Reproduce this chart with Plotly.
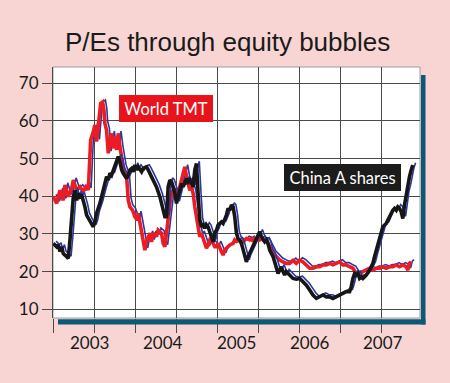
import plotly.graph_objects as go

# ---------------- data ----------------
tmt_t = [2003.004, 2003.050, 2003.095, 2003.140, 2003.163, 2003.208, 2003.254, 2003.277, 2003.322, 2003.367,
         2003.413, 2003.458, 2003.481, 2003.494, 2003.513, 2003.549, 2003.571, 2003.594, 2003.630, 2003.649,
         2003.676, 2003.694, 2003.707, 2003.730, 2003.753, 2003.776, 2003.798, 2003.821, 2003.844, 2003.867,
         2003.889, 2003.912, 2003.935, 2003.957, 2004.003, 2004.025, 2004.048, 2004.084, 2004.116, 2004.147,
         2004.161, 2004.184, 2004.207, 2004.252, 2004.274, 2004.320, 2004.342, 2004.365, 2004.410, 2004.433,
         2004.478, 2004.501, 2004.524, 2004.546, 2004.569, 2004.592, 2004.615, 2004.637, 2004.660, 2004.683,
         2004.705, 2004.728, 2004.751, 2004.773, 2004.796, 2004.819, 2004.841, 2004.864, 2004.887, 2004.909,
         2004.932, 2004.955, 2004.977, 2005.000, 2005.023, 2005.045, 2005.068, 2005.091, 2005.113, 2005.136,
         2005.159, 2005.181, 2005.204, 2005.227, 2005.249, 2005.272, 2005.295, 2005.317, 2005.340, 2005.363,
         2005.385, 2005.408, 2005.454, 2005.476, 2005.499, 2005.544, 2005.567, 2005.612, 2005.635, 2005.680,
         2005.703, 2005.726, 2005.748, 2005.771, 2005.816, 2005.839, 2005.862, 2005.907, 2005.929, 2005.952,
         2005.975, 2005.998, 2006.043, 2006.088, 2006.134, 2006.179, 2006.224, 2006.270, 2006.315, 2006.361,
         2006.406, 2006.452, 2006.497, 2006.542, 2006.588, 2006.633, 2006.678, 2006.724, 2006.769, 2006.814,
         2006.860, 2006.905, 2006.950, 2006.995, 2007.041, 2007.086, 2007.132, 2007.177, 2007.222, 2007.268,
         2007.313, 2007.358, 2007.404, 2007.449, 2007.494, 2007.540, 2007.585, 2007.630, 2007.676, 2007.721,
         2007.766, 2007.812, 2007.834, 2007.857, 2007.880]
tmt_pe = [39.9, 38.1, 41.6, 38.9, 43.0, 39.9, 42.1, 44.3, 41.6, 42.5,
          41.2, 43.0, 41.6, 46.9, 54.9, 57.1, 58.9, 54.5, 62.9, 64.6,
          65.0, 62.9, 59.3, 57.5, 51.4, 54.9, 56.7, 52.7, 55.8, 52.3,
          56.7, 53.1, 49.6, 47.8, 45.2, 39.0, 37.2, 36.3, 34.6, 33.7,
          35.5, 32.8, 30.2, 25.7, 28.0, 30.2, 27.9, 30.2, 29.3, 31.0,
          30.2, 27.5, 26.6, 30.2, 34.6, 39.0, 41.6, 39.9, 41.2, 42.1,
          40.8, 42.5, 43.8, 46.1, 47.8, 45.2, 43.4, 41.6, 42.5, 40.8,
          37.2, 34.6, 31.0, 29.3, 30.2, 28.8, 27.5, 26.2, 27.1, 28.4,
          28.0, 27.5, 26.6, 26.6, 27.5, 26.2, 25.3, 24.4, 25.7, 26.2,
          26.6, 27.1, 27.5, 28.4, 28.0, 28.4, 27.5, 28.4, 28.8, 28.4,
          28.8, 28.0, 28.8, 28.8, 28.4, 28.8, 28.4, 28.4, 27.5, 26.6,
          25.7, 24.9, 24.0, 23.1, 22.6, 22.2, 22.2, 23.0, 22.2, 23.1,
          22.6, 21.8, 20.9, 20.9, 21.3, 21.3, 21.8, 21.8, 22.2, 21.8,
          22.2, 22.6, 21.8, 21.8, 21.3, 20.9, 19.5, 19.5, 20.0, 20.4,
          20.9, 20.4, 20.9, 20.9, 21.3, 20.9, 21.3, 21.3, 21.8, 21.3,
          21.8, 21.3, 20.4, 22.2, 22.6]

china_t = [2003.004, 2003.050, 2003.072, 2003.095, 2003.118, 2003.140, 2003.186, 2003.208, 2003.231, 2003.254,
           2003.277, 2003.299, 2003.322, 2003.345, 2003.367, 2003.390, 2003.413, 2003.435, 2003.458, 2003.481,
           2003.503, 2003.549, 2003.571, 2003.594, 2003.639, 2003.685, 2003.707, 2003.730, 2003.753, 2003.776,
           2003.798, 2003.821, 2003.844, 2003.867, 2003.889, 2003.912, 2003.935, 2003.957, 2004.003, 2004.025,
           2004.048, 2004.071, 2004.093, 2004.116, 2004.139, 2004.161, 2004.184, 2004.207, 2004.229, 2004.274,
           2004.297, 2004.320, 2004.342, 2004.365, 2004.410, 2004.456, 2004.478, 2004.501, 2004.524, 2004.546,
           2004.569, 2004.592, 2004.615, 2004.637, 2004.660, 2004.683, 2004.705, 2004.728, 2004.751, 2004.773,
           2004.796, 2004.819, 2004.841, 2004.864, 2004.887, 2004.909, 2004.932, 2004.955, 2004.977, 2005.000,
           2005.023, 2005.045, 2005.068, 2005.091, 2005.113, 2005.136, 2005.159, 2005.181, 2005.204, 2005.227,
           2005.249, 2005.272, 2005.295, 2005.317, 2005.340, 2005.363, 2005.385, 2005.408, 2005.431, 2005.454,
           2005.476, 2005.499, 2005.521, 2005.544, 2005.567, 2005.590, 2005.612, 2005.635, 2005.658, 2005.680,
           2005.703, 2005.726, 2005.748, 2005.771, 2005.794, 2005.816, 2005.839, 2005.862, 2005.884, 2005.907,
           2005.929, 2005.952, 2005.975, 2005.998, 2006.020, 2006.043, 2006.066, 2006.088, 2006.111, 2006.134,
           2006.156, 2006.179, 2006.202, 2006.224, 2006.270, 2006.315, 2006.361, 2006.406, 2006.452, 2006.497,
           2006.542, 2006.588, 2006.633, 2006.678, 2006.724, 2006.769, 2006.814, 2006.860, 2006.905, 2006.950,
           2006.995, 2007.041, 2007.063, 2007.086, 2007.109, 2007.132, 2007.154, 2007.177, 2007.200, 2007.222,
           2007.268, 2007.313, 2007.358, 2007.381, 2007.404, 2007.426, 2007.449, 2007.472, 2007.494, 2007.540,
           2007.562, 2007.585, 2007.608, 2007.630, 2007.653, 2007.676, 2007.698, 2007.721, 2007.744, 2007.766,
           2007.789, 2007.812, 2007.834, 2007.857, 2007.880, 2007.902]
china_pe = [27.5, 26.6, 27.1, 25.3, 26.6, 24.8, 24.0, 23.5, 28.4, 34.6,
            39.9, 41.6, 38.9, 40.8, 39.9, 40.4, 38.9, 37.2, 35.0, 34.1,
            33.2, 31.9, 33.2, 35.5, 38.1, 41.6, 43.0, 45.2, 44.3, 46.1,
            45.6, 47.0, 48.3, 49.6, 50.5, 49.2, 47.0, 46.1, 44.7, 45.6,
            47.0, 47.4, 46.5, 48.3, 47.0, 47.8, 47.0, 46.5, 47.4, 47.8,
            47.0, 46.1, 45.2, 43.9, 42.5, 39.9, 38.1, 36.8, 34.6, 34.6,
            42.5, 44.3, 43.8, 42.5, 40.8, 38.1, 39.9, 41.2, 43.4, 42.5,
            43.4, 44.7, 43.8, 44.3, 43.4, 42.5, 47.0, 48.7, 40.8, 33.7,
            31.9, 32.4, 31.5, 32.4, 31.9, 30.6, 29.3, 27.9, 30.2, 31.0,
            32.4, 32.8, 33.2, 32.8, 33.7, 35.0, 36.8, 36.3, 37.7, 37.2,
            34.6, 30.2, 28.8, 28.4, 27.5, 25.7, 24.0, 22.6, 24.0, 24.9,
            26.2, 27.1, 27.9, 28.8, 29.7, 30.6, 29.3, 28.4, 27.9, 28.4,
            27.5, 25.7, 24.9, 24.0, 22.6, 20.9, 19.5, 20.4, 21.3, 20.0,
            19.1, 20.0, 19.5, 19.1, 18.2, 18.0, 18.2, 17.3, 16.4, 15.1,
            13.8, 12.9, 13.3, 13.8, 13.3, 13.3, 12.9, 13.3, 13.8, 14.2,
            14.7, 14.7, 16.0, 18.2, 19.5, 19.1, 19.5, 18.2, 18.6, 18.2,
            19.1, 20.4, 22.2, 24.0, 25.7, 27.5, 29.3, 31.0, 31.9, 32.8,
            33.7, 34.6, 35.9, 36.3, 36.8, 36.3, 37.2, 36.8, 35.9, 34.1,
            37.7, 40.8, 42.5, 45.2, 47.0, 48.3]

series_names = ["World TMT", "China A shares"]
year_labels = ["2003", "2004", "2005", "2006", "2007"]
year_centres = [2003.5, 2004.5, 2005.5, 2006.5, 2007.5]
y_ticks = [10, 20, 30, 40, 50, 60, 70]

# ---------------- layout constants ----------------
W, H = 450, 383
ML, MR, MT, MB = 53, 30, 67, 65
X0, X1 = 2003.0, 2008.0
Y0, Y1 = 7.7, 74.3
GRID_STEP = 0.5595
PW, PH = W - ML - MR, H - MT - MB
px_x = PW / (X1 - X0)
px_y = PH / (Y1 - Y0)
SDX, SDY = 2.8 / px_x, 2.2 / px_y   # blue shadow offset

RED = "#ec1c24"
BLACK = "#161616"
BLUE = "#2b37a3"
GRID = "#4a4a4a"
TEAL = "#0b5878"
BG = "#f8d5d3"
FONT = "Lato"


def px2paper_x(px):
    return (px - ML) / PW


def px2paper_y(py):
    return (H - MB - py) / PH


fig = go.Figure()
for t, v, col, nm in [(tmt_t, tmt_pe, RED, series_names[0]), (china_t, china_pe, BLACK, series_names[1])]:
    fig.add_trace(go.Scatter(x=[a + SDX for a in t], y=[b + SDY for b in v], mode="lines",
                             line=dict(color=BLUE, width=1.6), hoverinfo="skip", showlegend=False))
    fig.add_trace(go.Scatter(x=t, y=v, mode="lines", name=nm,
                             line=dict(color=col, width=3.6), showlegend=False))

shapes = [
    dict(type="rect", xref="paper", yref="paper", x0=0, x1=1, y0=0, y1=1,
         line=dict(color="#9c9c9c", width=1), layer="below"),
    # teal drop shadow (right and bottom)
    dict(type="rect", xref="paper", yref="paper",
         x0=px2paper_x(421), x1=px2paper_x(425.5), y0=px2paper_y(324.5), y1=px2paper_y(75),
         line=dict(width=0), fillcolor=TEAL, layer="above"),
    dict(type="rect", xref="paper", yref="paper",
         x0=px2paper_x(58), x1=px2paper_x(425.5), y0=px2paper_y(324.5), y1=px2paper_y(319.3),
         line=dict(width=0), fillcolor=TEAL, layer="above"),
]

annotations = []
for lab, xc in zip(year_labels, year_centres):
    annotations.append(dict(text=lab, x=xc, xref="x", y=px2paper_y(342), yref="paper",
                            showarrow=False, xanchor="center", yanchor="middle",
                            font=dict(family=FONT, size=17, color="#1a1a1a")))

annotations.append(dict(text=series_names[0], x=px2paper_x(166.2), y=px2paper_y(108.4),
                        xref="paper", yref="paper", showarrow=False, xanchor="center", yanchor="middle",
                        bgcolor="#e8141c", width=90, height=23, borderpad=2, borderwidth=0,
                        font=dict(family=FONT, size=16.5, color="white")))
annotations.append(dict(text=series_names[1], x=px2paper_x(342), y=px2paper_y(177.5),
                        xref="paper", yref="paper", showarrow=False, xanchor="center", yanchor="middle",
                        bgcolor="#1c1c1c", width=113, height=23, borderpad=2, borderwidth=0,
                        font=dict(family=FONT, size=16.5, color="white")))
annotations.append(dict(text="P/Es through equity bubbles", x=px2paper_x(227), y=px2paper_y(42),
                        xref="paper", yref="paper", showarrow=False, xanchor="center", yanchor="middle",
                        font=dict(family="Liberation Sans", size=26, color="#1a1a1a")))

fig.update_layout(
    width=W, height=H, autosize=False,
    margin=dict(l=ML, r=MR, t=MT, b=MB, pad=0),
    paper_bgcolor=BG, plot_bgcolor="white",
    showlegend=False,
    shapes=shapes, annotations=annotations,
    xaxis=dict(range=[X0, X1], tick0=X0, dtick=GRID_STEP, showgrid=True, gridcolor=GRID, gridwidth=1,
               ticks="outside", ticklen=14, tickcolor=GRID, tickwidth=1, showticklabels=False,
               zeroline=False, showline=False, fixedrange=True),
    yaxis=dict(range=[Y0, Y1], tickvals=y_ticks, showgrid=True, gridcolor=GRID, gridwidth=1,
               ticks="outside", ticklen=10, tickcolor=GRID, tickwidth=1, ticklabelstandoff=0,
               tickfont=dict(family=FONT, size=17, color="#1a1a1a"),
               zeroline=False, showline=True, linecolor=GRID, linewidth=1, fixedrange=True),
)

fig.write_html("out.html", config={"displayModeBar": False},
               post_script="document.body.style.margin='0';document.body.style.background='" + BG + "';")
